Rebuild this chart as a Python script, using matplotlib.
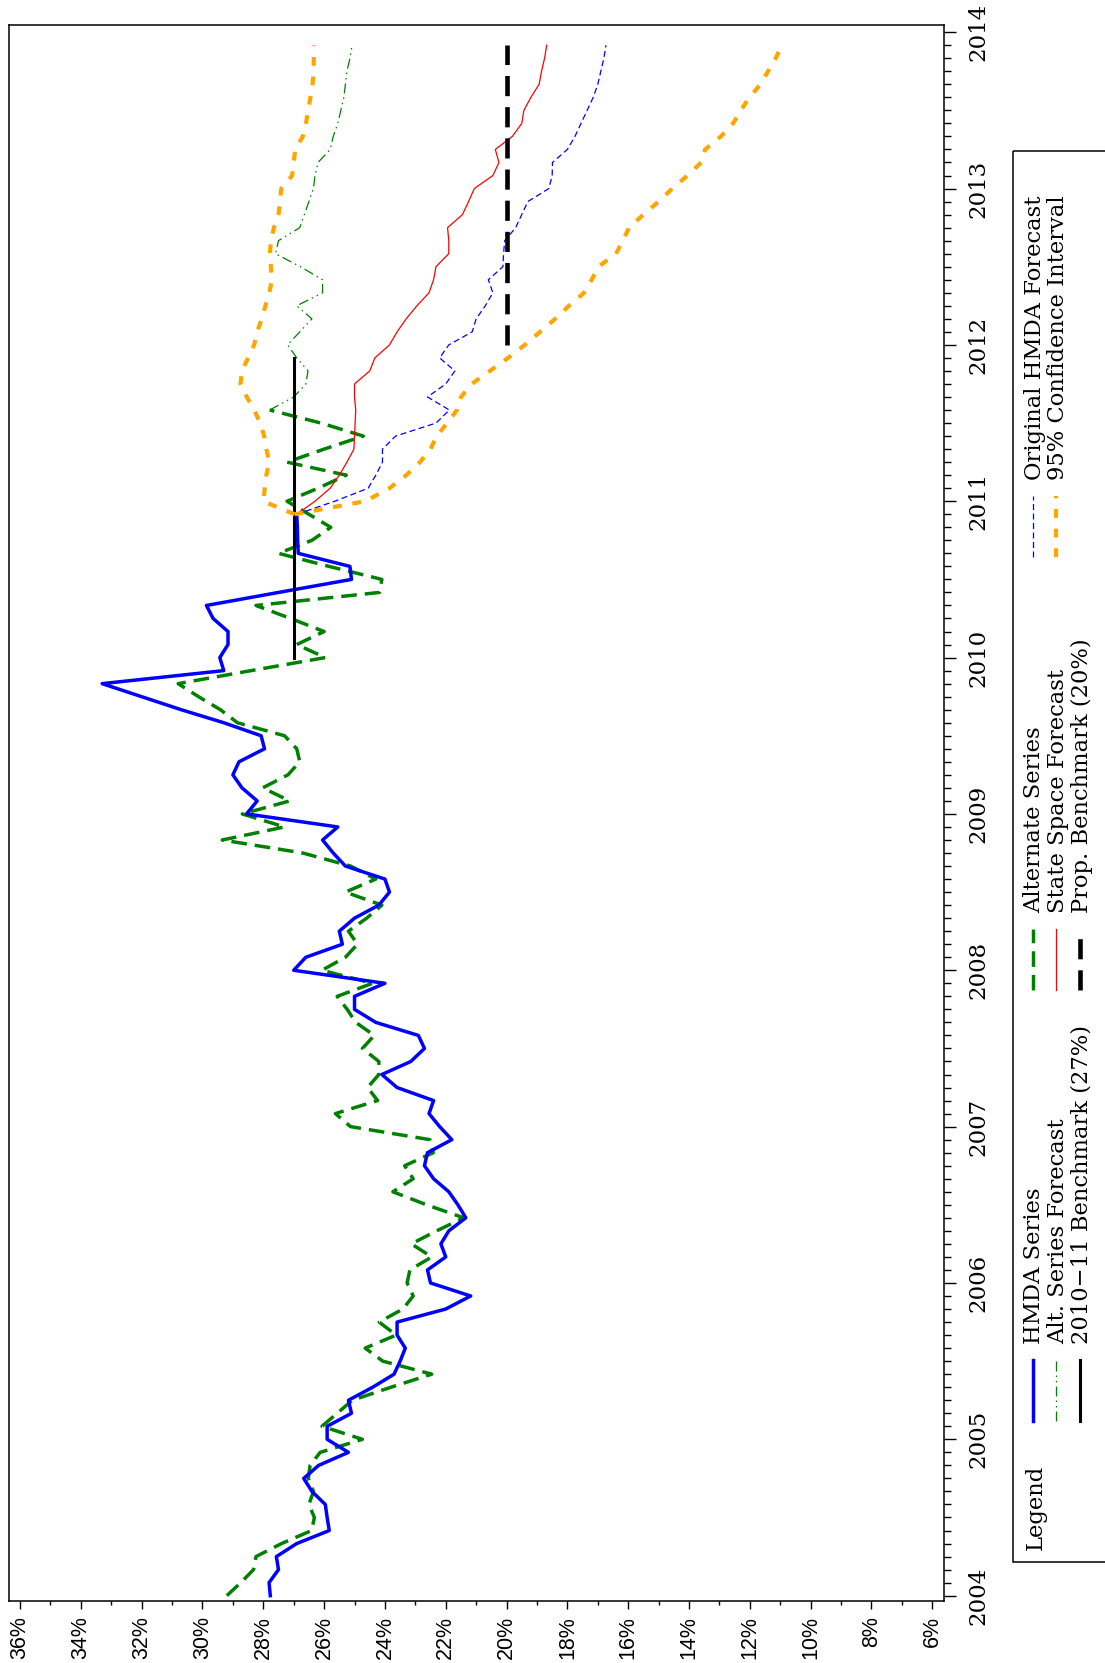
import numpy as np
import matplotlib.pyplot as plt
from matplotlib.patches import Rectangle


# monthly rates (percent); the observed series start Jan 2004
hmda_start = 2004.0
hmda_series = [27.77, 27.81, 27.5, 27.57, 26.9, 25.83, 25.9, 25.96, 26.4, 26.67, 26.18, 25.2,
               25.9, 25.9, 25.1, 25.2, 24.4, 23.7, 23.5, 23.33, 23.6, 23.6, 22.0, 21.18,
               22.5, 22.6, 22.0, 22.16, 21.9, 21.34, 21.6, 21.9, 22.4, 22.7, 22.6, 21.8,
               22.2, 22.55, 22.4, 23.6, 24.1, 23.15, 22.7, 22.9, 24.3, 25.0, 25.0, 24.0,
               27.0, 26.6, 25.4, 25.5, 25.0, 24.2, 23.85, 24.0, 25.3, 25.7, 26.05, 25.55,
               28.55, 28.2, 28.7, 29.0, 28.8, 27.96, 28.07, 29.3, 30.7, 32.0, 33.3, 29.3,
               29.43, 29.16, 29.16, 29.65, 29.87, 27.5, 25.1, 25.15, 26.85, 26.87, 26.88, 26.9]

alt_start = 2004.0
alt_series = [29.2, 28.74, 28.32, 28.24, 27.4, 26.41, 26.32, 26.5, 26.35, 26.52, 26.46, 26.13,
              24.74, 26.07, 25.57, 25.07, 23.8, 22.46, 24.07, 24.65, 23.63, 24.19, 23.41, 23.07,
              23.27, 23.18, 22.46, 23.13, 22.3, 21.41, 22.63, 23.74, 23.07, 23.35, 22.41, 22.52,
              25.13, 25.63, 24.24, 24.57, 24.2, 24.2, 24.74, 24.35, 24.96, 25.24, 25.57, 24.41,
              26.07, 25.3, 24.9, 25.2, 24.6, 24.1, 25.3, 24.3, 25.13, 26.7, 29.35, 27.3,
              28.69, 27.13, 28.02, 27.19, 26.8, 26.9, 27.3, 28.85, 29.41, 30.13, 30.8, 28.4,
              25.96, 26.9, 26.0, 27.1, 28.24, 24.18, 24.1, 25.84, 27.5, 26.4, 25.78, 26.5,
              27.22, 26.2, 25.27, 27.22, 26.0, 24.71, 26.1, 27.79]

# forecasts, first month Dec 2010
fcst_start = 2010 + 11 / 12
orig_hmda_fcst = [26.9, 25.65, 24.55, 24.3, 24.08, 24.08, 23.65, 22.32, 21.88, 22.6, 22.0, 21.7,
                  22.2, 21.9, 21.13, 21.0, 20.7, 20.45, 20.6, 20.12, 20.1, 20.06, 19.7, 19.5,
                  19.3, 18.61, 18.5, 18.49, 18.0, 17.75, 17.55, 17.35, 17.15, 17.0, 16.9, 16.8,
                  16.73]
state_space_fcst = [26.9, 26.3, 25.8, 25.5, 25.25, 25.02, 25.0, 24.98, 24.96, 25.0, 25.0, 24.5,
                    24.33, 23.85, 23.6, 23.3, 22.95, 22.55, 22.4, 22.32, 21.9, 21.9, 21.94, 21.45,
                    21.25, 21.06, 20.45, 20.25, 20.37, 19.81, 19.5, 19.43, 19.2, 18.93, 18.85, 18.75,
                    18.68]
ci_high = [26.97, 28.0, 27.95, 27.9, 27.8, 27.9, 27.97, 28.1, 28.3, 28.54, 28.75, 28.7,
           28.5, 28.3, 28.2, 28.05, 27.93, 27.8, 27.72, 27.75, 27.78, 27.75, 27.65, 27.5,
           27.45, 27.41, 27.05, 27.0, 26.95, 26.7, 26.6, 26.52, 26.45, 26.38, 26.34, 26.34,
           26.34]
ci_low = [26.97, 24.65, 23.85, 23.3, 22.85, 22.5, 22.3, 21.95, 21.63, 21.5, 21.15, 20.55,
          19.95, 19.4, 18.9, 18.4, 17.95, 17.45, 17.2, 16.98, 16.4, 16.18, 15.97, 15.5,
          15.0, 14.55, 14.05, 13.6, 13.47, 12.95, 12.55, 12.3, 12.01, 11.65, 11.4, 11.15,
          10.95]

# alternate series forecast, first month Aug 2011
alt_fcst_start = 2011 + 7 / 12
alt_series_fcst = [27.79, 27.0, 26.6, 26.53, 26.9, 27.2, 26.8, 26.4, 26.9, 26.05, 26.05, 26.78,
                   27.6, 27.5, 26.8, 26.65, 26.5, 26.35, 26.3, 26.2, 25.8, 25.7, 25.55, 25.45,
                   25.35, 25.3, 25.25, 25.15, 25.08]

bench_1011 = 27.0
bench_1011_span = [2010.0, 2011 + 11 / 12]
bench_prop = 20.0
bench_prop_span = [2012.0, 2013 + 11 / 12]

pct_ticks = list(range(36, 5, -2))
year_ticks = list(range(2004, 2015))


def months(start, n):
    return start + np.arange(n) / 12.0


styles = {
    "hmda": dict(color="#0000ff", lw=2.5, ls="-"),
    "alt": dict(color="#008000", lw=2.5, ls=(0, (4.5, 2.3))),
    "alt_fcst": dict(color="#008000", lw=0.9, ls=(0, (8, 3.2, 1.2, 3.2, 1.2, 3.2))),
    "state": dict(color="#ff0000", lw=0.9, ls="-"),
    "bench1011": dict(color="black", lw=2.2, ls="-"),
    "benchprop": dict(color="black", lw=3.3, ls=(0, (4.4, 2.4))),
    "orig": dict(color="#0000ff", lw=0.9, ls=(0, (4.8, 2.8))),
    "ci": dict(color="#ffa500", lw=3.0, ls=(0, (2.1, 2.6))),
}

fig = plt.figure(figsize=(11.05, 16.63), dpi=100)
ax = fig.add_axes([8.7 / 1105, 1 - 1601.3 / 1663, (944.3 - 8.7) / 1105, (1601.3 - 25) / 1663])

# the chart is laid on its side: rates run along the bottom, time up the right side
ax.plot(alt_series, months(alt_start, len(alt_series)), **styles["alt"])
ax.plot(alt_series_fcst, months(alt_fcst_start, len(alt_series_fcst)), **styles["alt_fcst"])
ax.plot(hmda_series, months(hmda_start, len(hmda_series)), **styles["hmda"])
ax.plot([bench_1011, bench_1011], bench_1011_span, **styles["bench1011"])
ax.plot(state_space_fcst, months(fcst_start, len(state_space_fcst)), **styles["state"])
ax.plot(orig_hmda_fcst, months(fcst_start, len(orig_hmda_fcst)), **styles["orig"])
ax.plot(ci_high, months(fcst_start, len(ci_high)), **styles["ci"])
ax.plot(ci_low, months(fcst_start, len(ci_low)), **styles["ci"])
ax.plot([bench_prop, bench_prop], bench_prop_span, **styles["benchprop"])

ax.set_xlim(36.372, 5.605)
ax.set_ylim(2003.964, 2014.046)

ax.set_xticks(pct_ticks)
ax.set_xticks(range(35, 6, -2), minor=True)
ax.set_xticklabels([f"{p}%" for p in pct_ticks], rotation=90, ha="center", va="top",
                   fontsize=15.5, fontfamily="Liberation Sans")

ax.yaxis.tick_right()
ax.set_yticks(year_ticks)
ax.set_yticks(2004 + np.arange(0, 121) / 12.0, minor=True)
ax.set_yticklabels([str(y) for y in year_ticks], rotation=90, va="center",
                   fontsize=16.5, fontfamily="DejaVu Serif")

ax.tick_params(axis="x", which="major", direction="out", length=5.5, width=1, pad=5)
ax.tick_params(axis="x", which="minor", direction="out", length=3, width=1)
ax.tick_params(axis="y", which="major", direction="out", length=8.6, width=1, pad=8,
               left=False, right=True)
ax.tick_params(axis="y", which="minor", direction="out", length=5, width=1,
               left=False, right=True)
for sp in ax.spines.values():
    sp.set_linewidth(1.1)

# legend block, drawn in pixel space on an overlay
ov = fig.add_axes([0, 0, 1, 1], facecolor="none")
ov.set_xlim(0, 1105)
ov.set_ylim(1663, 0)
ov.axis("off")
ov.add_patch(Rectangle((1013.3, 150.7), 120, 1562 - 150.7, fill=False, lw=1.1, color="black"))

txt = dict(rotation=90, ha="center", va="bottom", fontsize=16.3, fontfamily="DejaVu Serif")
ov.text(1036, 1550, "Legend", **txt)

legend_cols = [
    [("HMDA Series", "hmda"), ("Alt. Series Forecast", "alt_fcst"),
     ("2010\u221211 Benchmark (27%)", "bench1011")],
    [("Alternate Series", "alt"), ("State Space Forecast", "state"),
     ("Prop. Benchmark (20%)", "benchprop")],
    [("Original HMDA Forecast", "orig"), ("95% Confidence Interval", "ci")],
]
col_bottom = [1421, 990, 557]
row_x = [1032.5, 1056, 1079.5]
for col, y0 in zip(legend_cols, col_bottom):
    for (label, key), x in zip(col, row_x):
        ov.plot([x, x], [y0, y0 - 61], **styles[key])
        ov.text(x + 2, y0 - 77, label, **txt)

fig.savefig("out.png", dpi=100)
